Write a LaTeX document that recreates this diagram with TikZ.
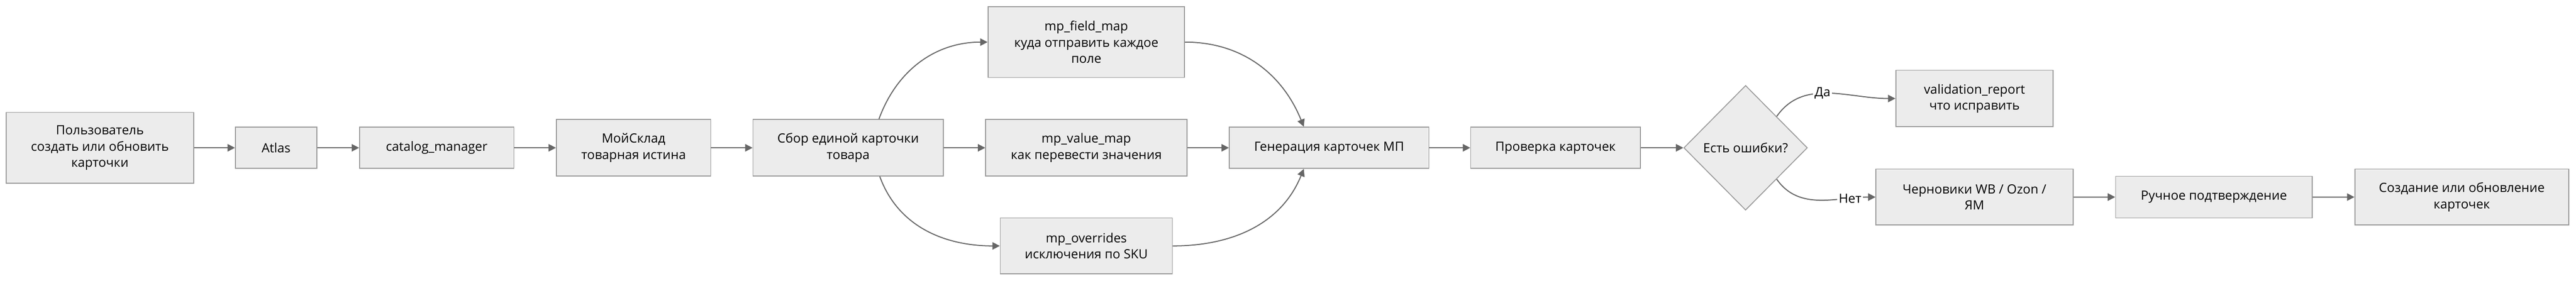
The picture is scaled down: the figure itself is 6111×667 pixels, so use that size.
\documentclass[tikz,border=0pt]{standalone}
\usepackage{fontspec}
\setmainfont{Open Sans}
\usetikzlibrary{arrows.meta,positioning,shapes.geometric}

\definecolor{boxfill}{HTML}{ECECEC}
\definecolor{boxline}{HTML}{999999}
\definecolor{arrowline}{HTML}{666666}

\tikzset{
  stepbox/.style={draw=boxline, fill=boxfill, line width=0.6pt, align=center,
    inner sep=0pt, font=\fontsize{8.6}{11}\selectfont},
  decision/.style={diamond, draw=boxline, fill=boxfill, line width=0.6pt,
    inner sep=0pt, minimum width=2.93cm, minimum height=2.96cm,
    font=\fontsize{8.6}{11}\selectfont},
  flow/.style={draw=arrowline, line width=0.7pt, -{Triangle[length=5pt,width=5pt]}},
  branch/.style={font=\fontsize{8.6}{11}\selectfont, fill=white, inner sep=1pt}
}

\begin{document}
\begin{tikzpicture}[x=0.01cm, y=-0.01cm]

  \useasboundingbox (0,0) rectangle (6111,667);

  % main chain
  \node[stepbox, minimum width=4.44cm, minimum height=1.68cm] (user) at (237,351)
    {Пользователь\\создать или обновить\\карточки};
  \node[stepbox, minimum width=1.93cm, minimum height=0.98cm] (atlas) at (655,351) {Atlas};
  \node[stepbox, minimum width=3.66cm, minimum height=0.98cm] (catalog) at (1036,351) {catalog\_manager};
  \node[stepbox, minimum width=3.66cm, minimum height=1.34cm] (sklad) at (1503,351)
    {МойСклад\\товарная истина};
  \node[stepbox, minimum width=4.51cm, minimum height=1.34cm] (sbor) at (2012,351)
    {Сбор единой карточки\\товара};

  % mapping tables
  \node[stepbox, minimum width=4.66cm, minimum height=1.68cm] (fieldmap) at (2577,100)
    {mp\_field\_map\\куда отправить каждое\\поле};
  \node[stepbox, minimum width=4.77cm, minimum height=1.34cm] (valuemap) at (2577,351)
    {mp\_value\_map\\как перевести значения};
  \node[stepbox, minimum width=4.08cm, minimum height=1.33cm] (overrides) at (2577,584)
    {mp\_overrides\\исключения по SKU};

  \node[stepbox, minimum width=4.73cm, minimum height=0.98cm] (gen) at (3153,351) {Генерация карточек МП};
  \node[stepbox, minimum width=4.02cm, minimum height=0.98cm] (check) at (3690,351) {Проверка карточек};
  \node[decision] (errors) at (4141,351) {Есть ошибки?};

  % outcomes
  \node[stepbox, minimum width=3.73cm, minimum height=1.34cm] (report) at (4684,234)
    {validation\_report\\что исправить};
  \node[stepbox, minimum width=4.67cm, minimum height=1.33cm] (drafts) at (4684,468)
    {Черновики WB / Ozon /\\ЯМ};
  \node[stepbox, minimum width=4.66cm, minimum height=0.99cm] (confirm) at (5252,468) {Ручное подтверждение};
  \node[stepbox, minimum width=5.07cm, minimum height=1.33cm] (create) at (5840,468)
    {Создание или обновление\\карточек};

  \draw[flow] (user) -- (atlas);
  \draw[flow] (atlas) -- (catalog);
  \draw[flow] (catalog) -- (sklad);
  \draw[flow] (sklad) -- (sbor);

  \draw[flow] ([xshift=0.73cm]sbor.north) to[out=70, in=180] (fieldmap.west);
  \draw[flow] (sbor) -- (valuemap);
  \draw[flow] ([xshift=0.75cm]sbor.south) to[out=-70, in=180] (overrides.west);

  \draw[flow] (fieldmap.east) to[out=0, in=112] ([xshift=-0.6cm]gen.north);
  \draw[flow] (valuemap) -- (gen);
  \draw[flow] (overrides.east) to[out=0, in=-112] ([xshift=-0.6cm]gen.south);

  \draw[flow] (gen) -- (check);
  \draw[flow] (check) -- (errors);

  \draw[flow] (errors.north east) to[out=55, in=180]
    node[branch, pos=0.45] {Да} (report.west);
  \draw[flow] (errors.south east) to[out=-55, in=180]
    node[branch, pos=0.78] {Нет} (drafts.west);

  \draw[flow] (drafts) -- (confirm);
  \draw[flow] (confirm) -- (create);

\end{tikzpicture}
\end{document}
